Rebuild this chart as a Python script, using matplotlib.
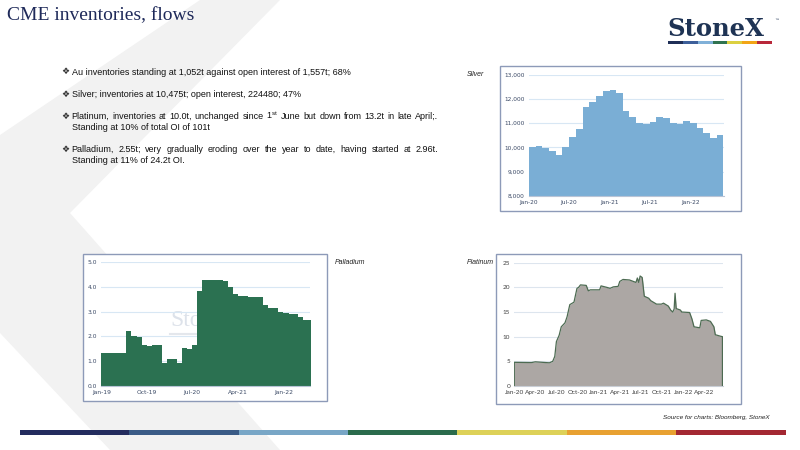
import matplotlib
matplotlib.use('Agg')
import matplotlib.pyplot as plt
import matplotlib.ticker as mticker
from matplotlib.patches import Rectangle, Polygon
import pandas as pd

plt.rcParams['mathtext.fontset'] = 'custom'
plt.rcParams['mathtext.rm'] = 'Liberation Sans'

W, H = 800, 450

# ---------------- data ----------------
title = "CME inventories, flows"
bullet_lines = [
    ("Au inventories standing at 1,052t against open interest of 1,557t; 68%", None),
    ("Silver; inventories at 10,475t; open interest, 224480; 47%", None),
    ("Platinum, inventories at 10.0t, unchanged since 1$^{\\mathrm{st}}$ June but down from 13.2t in late April;.",
     "Standing at 10% of total OI of 101t"),
    ("Palladium, 2.55t; very gradually eroding over the year to date, having started at 2.96t.",
     "Standing at 11% of 24.2t OI."),
]
source_text = "Source for charts: Bloomberg, StoneX"

silver_start = "2020-01-01"
silver_values = [10000, 10070, 9970, 9850, 9690, 10010, 10420, 10740, 11680, 11870,
                 12100, 12340, 12350, 12230, 11510, 11240, 11000, 10950, 11040, 11260,
                 11210, 10990, 10950, 11070, 11000, 10780, 10590, 10370, 10500]
silver_ticks = ["2020-01-01", "2020-07-01", "2021-01-01", "2021-07-01", "2022-01-01"]

palladium_start = "2019-01-01"
palladium_values = [1.33, 1.33, 1.33, 1.33, 1.32, 2.20, 2.03, 1.97, 1.64, 1.60, 1.63, 1.63,
                    0.92, 1.08, 1.08, 0.93, 1.53, 1.47, 1.63, 3.85, 4.30, 4.30, 4.30, 4.30,
                    4.25, 3.98, 3.70, 3.65, 3.63, 3.60, 3.58, 3.58, 3.25, 3.15, 3.13, 3.00,
                    2.93, 2.92, 2.92, 2.80, 2.68, 2.68]
palladium_ticks = ["2019-01-01", "2019-10-01", "2020-07-01", "2021-04-01", "2022-01-01"]

platinum_dates = ["2020-01-01", "2020-03-15", "2020-04-01", "2020-06-01", "2020-06-15",
                  "2020-06-24", "2020-07-01", "2020-07-13", "2020-07-22", "2020-08-07",
                  "2020-08-16", "2020-08-28", "2020-09-15", "2020-09-28", "2020-10-05",
                  "2020-10-13", "2020-11-07", "2020-11-16", "2020-11-25", "2021-01-04",
                  "2021-01-10", "2021-02-04", "2021-02-18", "2021-03-04", "2021-03-25",
                  "2021-04-01", "2021-04-15", "2021-05-13", "2021-06-10", "2021-06-16",
                  "2021-06-22", "2021-06-28", "2021-07-07", "2021-07-16", "2021-08-04",
                  "2021-08-13", "2021-09-07", "2021-09-28", "2021-10-07", "2021-10-28",
                  "2021-11-07", "2021-11-16", "2021-11-22", "2021-11-26", "2021-12-01",
                  "2021-12-19", "2021-12-25", "2022-01-28", "2022-02-07", "2022-02-16",
                  "2022-03-13", "2022-03-19", "2022-04-10", "2022-04-28", "2022-05-13",
                  "2022-05-19", "2022-06-10", "2022-06-19"]
platinum_values = [4.8, 4.75, 4.9, 4.7, 5.0, 6.0, 9.0, 10.3, 12.0, 12.8,
                   14.0, 16.5, 17.0, 19.8, 20.0, 20.5, 20.4, 19.3, 19.5, 19.5,
                   20.3, 20.0, 19.8, 20.1, 20.2, 21.2, 21.6, 21.5, 21.0, 21.9,
                   21.0, 22.3, 22.0, 18.2, 17.8, 17.3, 16.6, 16.6, 16.8, 16.2,
                   15.4, 15.0, 15.6, 18.8, 15.7, 15.4, 15.0, 14.9, 13.6, 12.0,
                   11.8, 13.3, 13.4, 13.1, 12.0, 10.4, 10.1, 10.0]
platinum_ticks = ["2020-01-01", "2020-04-01", "2020-07-01", "2020-10-01", "2021-01-01",
                  "2021-04-01", "2021-07-01", "2021-10-01", "2022-01-01", "2022-04-01"]

brand_colors = ["#232c5e", "#3a5b86", "#78a6c6", "#2b6b4c", "#ddd158", "#e8a131", "#a32832"]
logo_colors = ["#1f2f57", "#3d5f9a", "#80b0d8", "#2f7350", "#dcd040", "#f2a516", "#b8283a"]

# ---------------- figure ----------------
fig = plt.figure(figsize=(8, 4.5), dpi=100)
bg = fig.add_axes([0, 0, 1, 1])
bg.set_xlim(0, W)
bg.set_ylim(H, 0)
bg.axis('off')

# background chevron
bg.add_patch(Polygon([(200, 0), (280, 0), (70, 213), (280, 450), (110, 450), (0, 333), (0, 135)],
                     closed=True, facecolor='#f2f2f2', edgecolor='none', zorder=0))

# title
bg.text(7, 16, title, fontsize=14, family='Liberation Serif', color='#1f2a5a', va='center', ha='left')

# logo
bg.text(667, 36, "StoneX", fontsize=17.5, family='DejaVu Serif', weight='bold', color='#1e3354',
        va='baseline', ha='left')
bg.text(774, 20, "™", fontsize=3.5, color='#1e3354', va='center', ha='left')
seg = (772 - 668) / len(logo_colors)
for i, c in enumerate(logo_colors):
    bg.add_patch(Rectangle((668 + i * seg, 41), seg, 3, facecolor=c, edgecolor='none'))

# bottom bar
seg = (785.5 - 20) / len(brand_colors)
for i, c in enumerate(brand_colors):
    bg.add_patch(Rectangle((20 + i * seg, 429.5), seg, 5, facecolor=c, edgecolor='none'))

# source
bg.text(770, 418, source_text, fontsize=4.6, style='italic', family='Liberation Sans',
        color='#222222', ha='right', va='center')

# bullets
renderer = fig.canvas.get_renderer()
bkw = dict(fontsize=6.45, family='Liberation Sans', color='#111111', va='baseline', ha='left')


def put_line(y, text, justify_to=None):
    yb = y + 3.2
    if justify_to is None:
        bg.text(71.5, yb, text, **bkw)
        return
    words = text.split(' ')
    arts = [bg.text(0, yb, w, **bkw) for w in words]
    widths = [a.get_window_extent(renderer).width for a in arts]
    gap = (justify_to - 71.5 - sum(widths)) / (len(words) - 1)
    x = 71.5
    for a, w in zip(arts, widths):
        a.set_x(x)
        x += w + gap


ys = [(71.7, None), (94, None), (116, 127), (149, 160)]
for (l1, l2), (y1, y2) in zip(bullet_lines, ys):
    bg.text(61, y1, "❖", fontsize=6.5, family='DejaVu Sans', color='#333333', va='center', ha='left')
    put_line(y1, l1, justify_to=438 if l2 else None)
    if l2:
        put_line(y2, l2)

# frames
frame_kw = dict(facecolor='white', edgecolor='#8d9ab8', lw=1.0, zorder=1)
bg.add_patch(Rectangle((500, 66), 241, 145, **frame_kw))
bg.add_patch(Rectangle((83, 254), 244, 147, **frame_kw))
bg.add_patch(Rectangle((496, 254), 245, 150, **frame_kw))

# chart labels
lkw = dict(fontsize=5, style='italic', family='Liberation Sans', color='#222222', va='center')
bg.text(467, 75, "Silver", ha='left', **lkw)
bg.text(335, 262, "Palladium", ha='left', **lkw)
bg.text(467, 263, "Platinum", ha='left', **lkw)


def add_ax(x0, y0, x1, y1):
    a = fig.add_axes([x0 / W, 1 - y1 / H, (x1 - x0) / W, (y1 - y0) / H])
    a.patch.set_alpha(0)
    for s in ['top', 'right', 'left']:
        a.spines[s].set_visible(False)
    return a


# ---- Silver ----
ax = add_ax(529, 74.7, 724, 195.7)
sd = pd.date_range(silver_start, periods=len(silver_values) + 1, freq='MS')
sv = silver_values + [silver_values[-1]]
ax.fill_between(sd, sv, 8000, step='post', color='#7aaed5', lw=0, zorder=2)
ax.set_xlim(sd[0], pd.Timestamp('2022-06-04'))
ax.set_ylim(8000, 13000)
ax.set_yticks(range(8000, 13001, 1000))
ax.yaxis.set_major_formatter(mticker.FuncFormatter(lambda v, p: f"{int(v):,}"))
ax.grid(axis='y', color='#d8e7f4', lw=0.8, zorder=0)
st = pd.to_datetime(silver_ticks)
ax.set_xticks(st)
ax.set_xticklabels([d.strftime('%b-%y') for d in st])
ax.spines['bottom'].set_color('#b8c4d6')
ax.tick_params(length=0, labelsize=4.2, colors='#3b4a66', pad=3)

# ---- Palladium ----
ax = add_ax(101.3, 262.3, 310, 385.7)
pdts = pd.date_range(palladium_start, periods=len(palladium_values) + 1, freq='MS')
pv = palladium_values + [palladium_values[-1]]
ax.text(0.33, 0.53, "StoneX", transform=ax.transAxes, fontsize=17, family='Liberation Serif',
        color='#dde2ea', va='center', ha='left', zorder=1)
ax.plot([0.33, 0.6], [0.42, 0.42], transform=ax.transAxes, color='#e4e7ec', lw=1.5, zorder=1)
ax.fill_between(pdts, pv, 0, step='post', color='#2b7151', lw=0, zorder=2)
ax.set_xlim(pdts[0], pd.Timestamp('2022-06-10'))
ax.set_ylim(0, 5)
ax.set_yticks([0, 1, 2, 3, 4, 5])
ax.yaxis.set_major_formatter(mticker.FormatStrFormatter('%.1f'))
ax.grid(axis='y', color='#d8e7f4', lw=0.8, zorder=0)
pt = pd.to_datetime(palladium_ticks)
ax.set_xticks(pt)
ax.set_xticklabels([d.strftime('%b-%y') for d in pt])
ax.spines['bottom'].set_color('#b8c4d6')
ax.tick_params(length=0, labelsize=4.3, colors='#3b4a66', pad=3)

# ---- Platinum ----
ax = add_ax(514.3, 262.7, 722.7, 386)
pld = pd.to_datetime(platinum_dates)
ax.fill_between(pld, platinum_values, 0, color='#aca7a4', lw=0, zorder=2)
xs = [pld[0]] + list(pld) + [pld[-1]]
yv = [0] + platinum_values + [0]
ax.plot(xs, yv, color='#4d6b52', lw=0.9, zorder=3)
ax.set_xlim(pld[0], pld[-1] + pd.Timedelta(days=1))
ax.set_ylim(0, 25)
ax.set_yticks(range(0, 26, 5))
ax.grid(axis='y', color='#dde5ee', lw=0.8, zorder=0)
plt_t = pd.to_datetime(platinum_ticks)
ax.set_xticks(plt_t)
ax.set_xticklabels([d.strftime('%b-%y') for d in plt_t])
ax.spines['bottom'].set_color('#c9ced6')
ax.tick_params(length=0, labelsize=4.6, colors='#404040', pad=3)
for lab in ax.get_xticklabels() + ax.get_yticklabels():
    lab.set_family('Lato')

fig.savefig('out.png', dpi=100)
